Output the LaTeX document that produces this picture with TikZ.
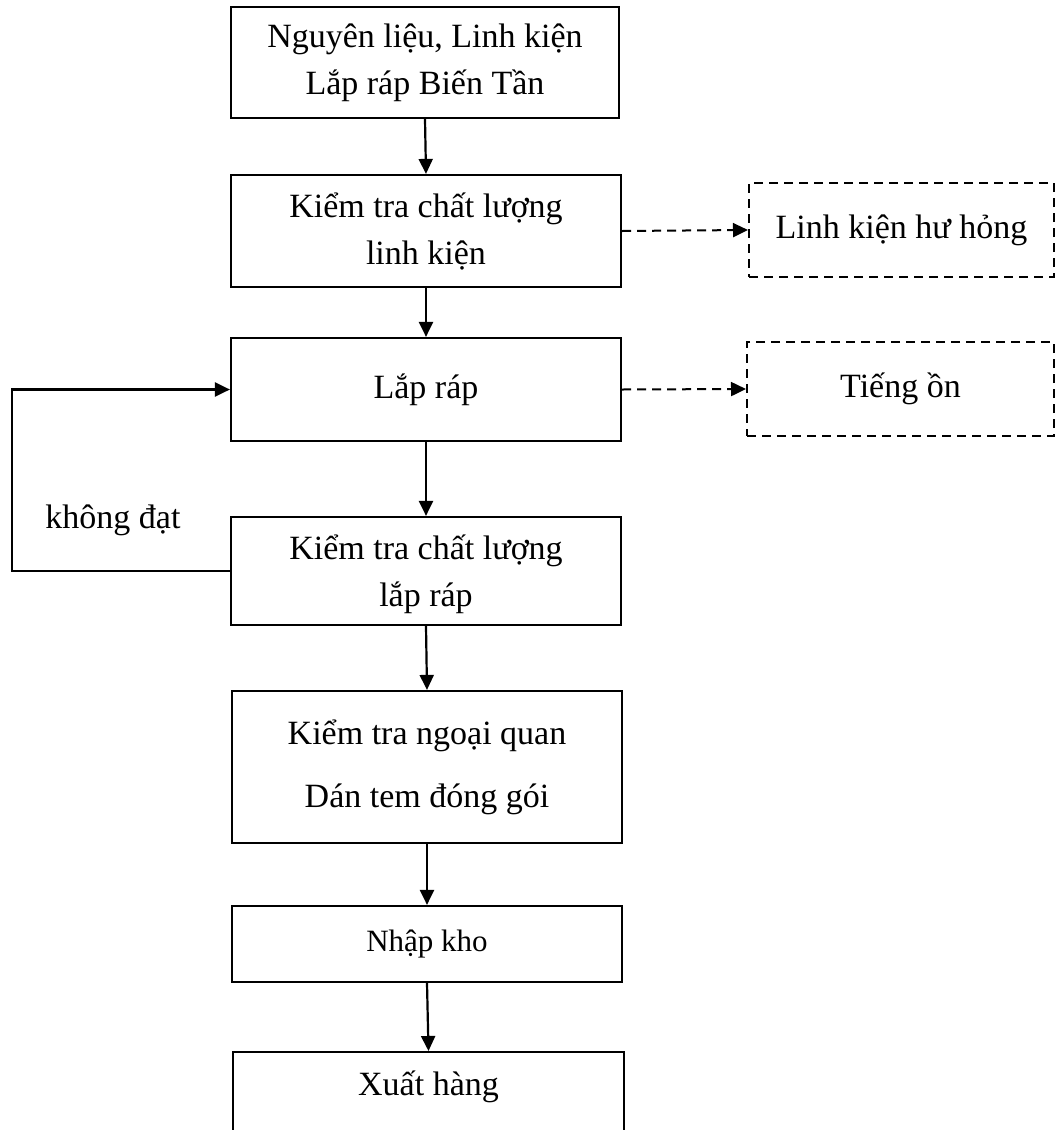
\documentclass[tikz,border=0pt]{standalone}
\usepackage{fontspec}
\setmainfont{Liberation Serif}
\usetikzlibrary{arrows.meta}
\begin{document}
\begin{tikzpicture}[x=1pt,y=-1pt,
  every node/.style={inner sep=0pt, font=\fontsize{34}{47}\selectfont},
  box/.style={draw, line width=2.2pt, align=center},
  dbox/.style={draw, line width=2pt, dash pattern=on 9pt off 6pt, align=center},
  arr/.style={line width=2.2pt, -{Triangle[length=15pt,width=14pt]}},
  darr/.style={line width=2pt, dash pattern=on 9pt off 6pt, -{Triangle[length=15pt,width=14pt]}}
]
\useasboundingbox (0,0) rectangle (1055,1130);

% main process chain
\node[box, minimum width=388pt, minimum height=111pt] (b1) at (425,62.5)
  {Nguyên liệu, Linh kiện\\Lắp ráp Biến Tần};
\node[box, minimum width=390pt, minimum height=112pt] (b2) at (426,231)
  {Kiểm tra chất lượng\\linh kiện};
\node[box, minimum width=390pt, minimum height=103pt] (b3) at (426,389.5)
  {Lắp ráp};
\node[box, minimum width=390pt, minimum height=108pt, text depth=0pt] (b4) at (426,571)
  {Kiểm tra chất lượng\\lắp ráp};
\node[box, minimum width=390pt, minimum height=152pt,
      font=\fontsize{34}{63}\selectfont] (b5) at (427,767)
  {Kiểm tra ngoại quan\\Dán tem đóng gói};
\node[box, minimum width=390pt, minimum height=76pt,
      font=\fontsize{31}{40}\selectfont] (b6) at (427,944)
  {Nhập kho};
\node[box, minimum width=391pt, minimum height=95pt, anchor=north] (b7) at (428.5,1051) {};
\node[anchor=base] (b7text) at (428.5,1095) {Xuất hàng};

% side outputs
\node[dbox, minimum width=305pt, minimum height=94pt] (d1) at (901.5,230)
  {Linh kiện hư hỏng};
\node[dbox, minimum width=307pt, minimum height=94pt] (d2) at (900.5,389)
  {Tiếng ồn};

% flow connectors
\draw[arr] (b1.south) -- (b2.north);
\draw[arr] (b2.south) -- (b3.north);
\draw[arr] (b3.south) -- (b4.north);
\draw[arr] (b4.south) -- (b5.north);
\draw[arr] (b5.south) -- (b6.north);
\draw[arr] (b6.south) -- (b7.north);

% rework loop
\draw[arr] (b4.west) -- ++(-218,0) |- (b3.west);
\node (kd) at (113,520) {không đạt};

% waste outputs
\draw[darr] (b2.east) -- (d1.west);
\draw[darr] (b3.east) -- (d2.west);
\end{tikzpicture}
\end{document}
